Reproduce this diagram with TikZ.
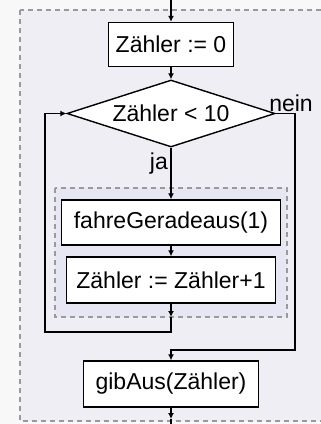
\documentclass[tikz,border=0pt]{standalone}
\usepackage{fontspec}
\setmainfont{Liberation Sans}
\usepackage{tikz}
\usetikzlibrary{shapes.geometric, arrows.meta, positioning}
\definecolor{pagebg}{HTML}{F8F8F8}
\definecolor{outerbg}{HTML}{EFEEF5}
\definecolor{innerbg}{HTML}{E7E7F4}
\definecolor{dashgray}{HTML}{9A9A9A}

\begin{document}
\begin{tikzpicture}[
    x=1pt, y=-1pt,
    every node/.style={font=\fontsize{23}{27}\selectfont},
    stmt/.style={rectangle, draw=black, fill=white, line width=1.4pt, inner sep=0pt},
    cond/.style={diamond, draw=black, fill=white, line width=1.4pt, inner sep=0pt, aspect=3.1, minimum width=208pt, minimum height=67pt},
    block/.style={draw=dashgray, line width=1.2pt, dash pattern=on 5pt off 4pt},
    flow/.style={line width=1.4pt, -{Latex[length=6pt,width=6pt]}},
    link/.style={line width=1.4pt},
]
    \useasboundingbox (0,0) rectangle (321,424);
    \fill[pagebg] (0,0) rectangle (321,424);
    % Blocks
    \draw[block, fill=outerbg] (20,10) rectangle (340,421);
    \draw[block, fill=innerbg] (55,188) rectangle (287,317);
    % Statements
    \node[stmt, minimum width=125pt, minimum height=44pt] (init) at (171,44.5) {Zähler := 0};
    \node[cond] (test) at (171,113.5) {Zähler < 10};
    \node[stmt, minimum width=219pt, minimum height=45pt] (drive) at (171,222.5) {fahreGeradeaus(1)};
    \node[stmt, minimum width=209pt, minimum height=46pt] (count) at (171,280) {Zähler := Zähler+1};
    \node[stmt, minimum width=175pt, minimum height=46pt] (print) at (171,384) {gibAus(Zähler)};
    % Labels
    \node[anchor=east, inner sep=0pt] (yes) at (168,164) {ja};
    \node[inner sep=0pt] (no) at (291,103) {nein};
    % Free ends
    \coordinate (top) at (171,0);
    \coordinate (bodyend) at (171,317);
    \coordinate (bottomtip) at (171,419);
    \coordinate (bottom) at (171,424);
    % Connectors
    \draw[flow] (top) -- (init.north);
    \draw[flow] (init.south) -- (test.north);
    \draw[flow] (test.south) -- (drive.north);
    \draw[flow] (drive.south) -- (count.north);
    \draw[flow] (count.south) -- (bodyend);
    \draw[flow] (bodyend) -- (171,332) -- (45,332) -- (45,113.5) -- (test.west);
    \draw[flow] (test.east) -- (295,113.5) -- (295,350) -- (171,350) -- (print.north);
    \draw[flow] (print.south) -- (bottomtip);
    \draw[link] (bottomtip) -- (bottom);
\end{tikzpicture}
\end{document}
